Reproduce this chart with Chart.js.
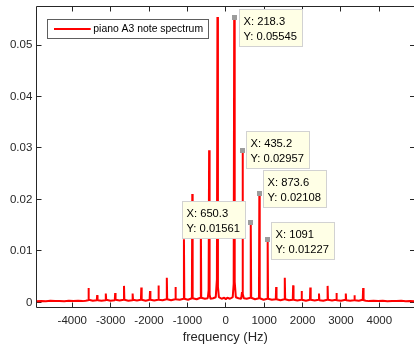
<!DOCTYPE html>
<html>
<head>
<meta charset="utf-8">
<title>piano A3 note spectrum</title>
<script src="https://cdn.jsdelivr.net/npm/chart.js@4/dist/chart.umd.min.js"></script>
<style>
  html, body { margin: 0; padding: 0; background: #ffffff; width: 414px; height: 344px; overflow: hidden; }
  canvas { display: block; }
</style>
</head>
<body>
<canvas id="spectrum" width="414" height="344"></canvas>
<script>
// Magnitude spectrum of a piano A3 note (two-sided FFT, Hz)
const freqHz = [
  -4930, -4810, -4690, -4570, -4450, -4330, -4210, -4090, -3970, -3850, -3730, -3650,
  -3590, -3579, -3568, -3466,
  -3362, -3352, -3342, -3240,
  -3137, -3127, -3117, -3005,
  -2893, -2883, -2873, -2768,
  -2663, -2653, -2643, -2540,
  -2438, -2428, -2418, -2315,
  -2212, -2202, -2192, -2088,
  -1985, -1975, -1965, -1865,
  -1765, -1755, -1745, -1646,
  -1547, -1537, -1527, -1425,
  -1322, -1312, -1302, -1200,
  -1101, -1091, -1081, -985,
  -884, -873.6, -864, -760,
  -662, -650.3, -640, -545,
  -470, -448, -435.2, -422, -400, -330,
  -262, -232, -218.3, -205, -180,
  -110, -40, 0, 40, 110,
  180, 205, 218.3, 232, 262,
  330, 400, 422, 435.2, 448, 470,
  545, 640, 650.3, 662,
  760, 864, 873.6, 884,
  985, 1081, 1091, 1101,
  1200, 1302, 1312, 1322,
  1425, 1527, 1537, 1547,
  1646, 1745, 1755, 1765,
  1865, 1965, 1975, 1985,
  2088, 2192, 2202, 2212,
  2315, 2418, 2428, 2438,
  2540, 2643, 2653, 2663,
  2768, 2873, 2883, 2893,
  3005, 3117, 3127, 3137,
  3240, 3342, 3352, 3362,
  3466, 3568, 3579, 3590,
  3650, 3730, 3850, 3970, 4090, 4210, 4330, 4450, 4570, 4690, 4810, 4930
];
const magnitude = [
  0.00022, 0.00028, 0.00020, 0.00030, 0.00024, 0.00027, 0.00021, 0.00030, 0.00025, 0.00029, 0.00024, 0.00032,
  0.0004, 0.0028, 0.0005, 0.0003,
  0.0004, 0.0014, 0.0004, 0.00033,
  0.0004, 0.0017, 0.0005, 0.0003,
  0.0004, 0.0018, 0.0005, 0.00036,
  0.0005, 0.0032, 0.0005, 0.0003,
  0.0004, 0.0017, 0.0005, 0.00036,
  0.0005, 0.0029, 0.0005, 0.0003,
  0.0005, 0.0022, 0.0005, 0.00036,
  0.0005, 0.0033, 0.0005, 0.0004,
  0.0006, 0.0048, 0.0006, 0.0004,
  0.0006, 0.0030, 0.0006, 0.0005,
  0.0007, 0.01227, 0.0007, 0.0005,
  0.0008, 0.02108, 0.0008, 0.0006,
  0.0009, 0.01561, 0.0009, 0.0007,
  0.0008, 0.0024, 0.02957, 0.0015, 0.0007, 0.0008,
  0.0010, 0.0045, 0.05545, 0.0030, 0.0010,
  0.0007, 0.0009, 0.0006, 0.0009, 0.0007,
  0.0010, 0.0036, 0.05545, 0.0040, 0.0010,
  0.0008, 0.0007, 0.0020, 0.02957, 0.0016, 0.0008,
  0.0007, 0.0009, 0.01561, 0.0009,
  0.0006, 0.0008, 0.02108, 0.0008,
  0.0005, 0.0007, 0.01227, 0.0007,
  0.0005, 0.0006, 0.0030, 0.0006,
  0.0004, 0.0006, 0.0048, 0.0006,
  0.0004, 0.0005, 0.0033, 0.0005,
  0.00036, 0.0005, 0.0022, 0.0005,
  0.0003, 0.0005, 0.0029, 0.0005,
  0.00036, 0.0005, 0.0017, 0.0004,
  0.0003, 0.0005, 0.0032, 0.0005,
  0.00036, 0.0005, 0.0018, 0.0004,
  0.0003, 0.0005, 0.0017, 0.0004,
  0.00033, 0.0004, 0.0014, 0.0004,
  0.0003, 0.0005, 0.0028, 0.0004,
  0.00032, 0.00024, 0.00029, 0.00025, 0.00030, 0.00021, 0.00027, 0.00024, 0.00030, 0.00020, 0.00028, 0.00022
];

// Axis ticks
const xTickValues = [-4000, -3000, -2000, -1000, 0, 1000, 2000, 3000, 4000];
const yTickValues = [0, 0.01, 0.02, 0.03, 0.04, 0.05];

// Data tips on the first harmonics
const tipFreq = [218.3, 435.2, 650.3, 873.6, 1091];
const tipMag = [0.05545, 0.02957, 0.01561, 0.02108, 0.01227];

// Where each tip box sits relative to its marker (px); negative dx puts the box on the left
const tipOffset = [[5, -7.5], [4.2, -18.7], [-4.8, -20.6], [4, -23.3], [4, -17.1]];

const axisColor = '#262626';
const fontFamily = '"Liberation Sans", Arial, Helvetica, sans-serif';
const tickLen = 5;

const framePlugin = {
  id: 'frame',
  beforeDatasetsDraw(chart) {
    const { ctx, chartArea: a, scales: { x, y } } = chart;
    const L = Math.floor(a.left) + 0.5;
    const T = Math.floor(a.top) + 0.5, B = Math.floor(a.bottom) + 0.5;
    // the right side of the axes box falls just outside the page; only its ticks show
    const R = a.right + 1;
    ctx.save();
    ctx.strokeStyle = axisColor;
    ctx.lineWidth = 1;
    ctx.beginPath();
    ctx.moveTo(R, T); ctx.lineTo(L, T); ctx.lineTo(L, B); ctx.lineTo(R, B);
    xTickValues.forEach(v => {
      const p = Math.floor(x.getPixelForValue(v)) + 0.5;
      ctx.moveTo(p, B); ctx.lineTo(p, B - tickLen);
      ctx.moveTo(p, T); ctx.lineTo(p, T + tickLen);
    });
    yTickValues.forEach(v => {
      const p = Math.floor(y.getPixelForValue(v)) + 0.5;
      ctx.moveTo(L, p); ctx.lineTo(L + tickLen, p);
      ctx.moveTo(R, p); ctx.lineTo(R - tickLen, p);
    });
    ctx.stroke();
    ctx.restore();
  },
  afterDatasetsDraw(chart) {
    const { ctx, chartArea: a, scales: { x, y } } = chart;
    ctx.save();

    // data tip boxes
    ctx.font = '11.2px ' + fontFamily;
    const markers = [];
    tipFreq.forEach((f, i) => {
      const mx = x.getPixelForValue(f);
      const my = y.getPixelForValue(tipMag[i]);
      const lines = ['X: ' + String(f), 'Y: ' + String(tipMag[i])];
      const w = Math.round(Math.max(...lines.map(s => ctx.measureText(s).width)) + 9.5);
      const h = 37;
      const [dx, dy] = tipOffset[i];
      const bx = Math.floor(dx < 0 ? mx + dx - w : mx + dx) + 0.5;
      const by = Math.floor(my + dy) + 0.5;
      ctx.fillStyle = '#ffffe6';
      ctx.fillRect(bx, by, w, h);
      ctx.strokeStyle = '#d2d2d2';
      ctx.lineWidth = 1;
      ctx.strokeRect(bx, by, w, h);
      ctx.fillStyle = '#000000';
      ctx.textAlign = 'left';
      ctx.textBaseline = 'middle';
      ctx.fillText(lines[0], bx + 4, by + 12.8);
      ctx.fillText(lines[1], bx + 4, by + 27);
      markers.push([mx, my]);
    });
    markers.forEach(([mx, my]) => {
      ctx.fillStyle = '#9c9c9c';
      ctx.fillRect(Math.round(mx - 2.5), Math.round(my - 2.5), 5, 5);
    });

    // legend
    const ds = chart.data.datasets[0];
    ctx.font = '10.4px ' + fontFamily;
    const tw = ctx.measureText(ds.label).width;
    const lx = Math.floor(a.left + 11) + 0.5, ly = Math.floor(a.top + 12.5) + 0.5;
    const lw = Math.round(6.5 + 36.7 + 2.6 + tw + 5.7), lh = 19;
    ctx.fillStyle = '#ffffff';
    ctx.fillRect(lx, ly, lw, lh);
    ctx.strokeStyle = '#5e5e5e';
    ctx.lineWidth = 1;
    ctx.strokeRect(lx, ly, lw, lh);
    ctx.strokeStyle = ds.borderColor;
    ctx.lineWidth = 2;
    ctx.beginPath();
    ctx.moveTo(lx + 6.5, ly + 9.5);
    ctx.lineTo(lx + 43.2, ly + 9.5);
    ctx.stroke();
    ctx.fillStyle = '#000000';
    ctx.textAlign = 'left';
    ctx.textBaseline = 'middle';
    ctx.fillText(ds.label, lx + 45.8, ly + 9.5);

    ctx.restore();
  }
};

new Chart(document.getElementById('spectrum'), {
  type: 'line',
  data: {
    datasets: [{
      label: 'piano A3 note spectrum',
      data: freqHz.map((f, i) => ({ x: f, y: magnitude[i] })),
      borderColor: '#ff0000',
      borderWidth: 2,
      borderJoinStyle: 'bevel',
      pointRadius: 0,
      tension: 0,
      fill: false
    }]
  },
  options: {
    responsive: false,
    animation: false,
    devicePixelRatio: 1,
    layout: { autoPadding: false, padding: { left: 0, top: 6.5, right: 0, bottom: 0 } },
    plugins: { legend: { display: false }, tooltip: { enabled: false } },
    scales: {
      x: {
        type: 'linear',
        // visible part of the frequency axis (the box is cut off on the right)
        min: -4933,
        max: 4904,
        grid: { display: false, drawTicks: false },
        border: { display: false },
        afterBuildTicks: s => { s.ticks = xTickValues.map(v => ({ value: v })); },
        afterFit: s => { s.height = 36.5; s.paddingLeft = 0; s.paddingRight = 0; },
        ticks: {
          autoSkip: false,
          maxRotation: 0,
          padding: 6.3,
          color: axisColor,
          font: { family: fontFamily, size: 11.5 },
          callback: v => String(v)
        },
        title: {
          display: true,
          text: 'frequency (Hz)',
          color: axisColor,
          font: { family: fontFamily, size: 13, lineHeight: 1 },
          padding: { top: 0, bottom: 0.5 }
        }
      },
      y: {
        type: 'linear',
        min: -0.001,
        max: 0.0575,
        grid: { display: false, drawTicks: false },
        border: { display: false },
        afterBuildTicks: s => { s.ticks = yTickValues.map(v => ({ value: v })); },
        afterFit: s => { s.width = 36.5; s.paddingTop = 0; s.paddingBottom = 0; },
        ticks: {
          padding: 4.2,
          color: axisColor,
          font: { family: fontFamily, size: 11.5 },
          callback: v => String(v)
        }
      }
    }
  },
  plugins: [framePlugin]
});
</script>
</body>
</html>
